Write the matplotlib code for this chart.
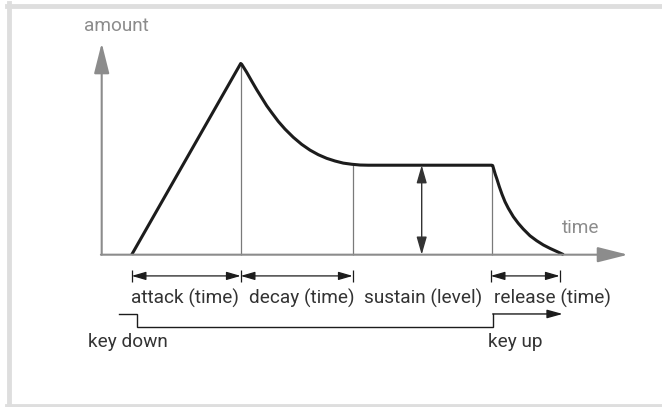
import matplotlib

matplotlib.use("Agg")
import matplotlib.pyplot as plt
from matplotlib.lines import Line2D

# envelope stage boundaries (time units) and levels (amount, peak = 1)
attack_start = 3.0
peak_time = 13.9
decay_end = 25.1
sustain_end = 39.0
peak_level = 1.0
sustain_level = 0.468

# decay and release curves
decay_t = [14.0, 14.5, 15.0, 15.5, 16.0, 16.5, 17.0, 17.66, 18.33, 19.16,
           20.0, 20.83, 21.66, 22.5, 23.33, 24.16, 25.0, 25.83, 26.66]
decay_a = [0.996, 0.954, 0.908, 0.863, 0.821, 0.779, 0.743, 0.697, 0.657, 0.614,
           0.577, 0.547, 0.523, 0.504, 0.490, 0.479, 0.473, 0.469, 0.468]
release_t = [39.1, 39.23, 39.36, 39.5, 39.76, 40.03, 40.33, 40.66, 41.16, 41.66,
             42.16, 42.83, 43.5, 44.16, 44.83, 45.5, 46.2]
release_a = [0.466, 0.443, 0.420, 0.399, 0.356, 0.316, 0.277, 0.243, 0.199, 0.164,
             0.134, 0.099, 0.073, 0.051, 0.033, 0.017, 0.0]

# key gate (time, level in the label area below the axis)
gate_t = [1.75, 3.5, 3.5, 39.1, 39.1, 46.1]
gate_a = [-0.310, -0.310, -0.377, -0.377, -0.310, -0.310]

stage_labels = ["attack (time)", "decay (time)", "sustain (level)", "release (time)"]
stage_label_x = [2.93, 14.7, 26.26, 39.2]
key_labels = ["key down", "key up"]
key_label_x = [-1.37, 38.6]

release_span = (38.9, 45.8)
sustain_arrow_t = 32.0

AXIS = "#8c8c8c"
INK = "#1c1c1c"
TEXT = "#333333"
THIN = "#7a7a7a"
FONT = ["Roboto", "DejaVu Sans"]
FS = 13.7

fig = plt.figure(figsize=(6.62, 4.07), dpi=100)
ax = fig.add_axes([0, 0, 1, 1])
ax.set_xlim(-10.17, 56.03)
ax.set_ylim(-0.7966, 1.3321)
ax.axis("off")

# frame
for xs, ys in [([9.2 / 662] * 2, [0, 1 - 3.3 / 407]),
               ([6.7 / 662, 1], [1 - 5.7 / 407] * 2),
               ([6.7 / 662, 1], [1 - 405.6 / 407] * 2)]:
    fig.add_artist(Line2D(xs, ys, transform=fig.transFigure, color="#dedede", lw=3.5))

# axes with arrows
axis_style = "-|>,head_length=18.7,head_width=4.7"
ax.annotate("", xy=(0, 1.107), xytext=(0, 0),
            arrowprops=dict(arrowstyle=axis_style, color=AXIS, lw=1.5,
                            shrinkA=0, shrinkB=0, mutation_scale=1))
ax.annotate("", xy=(52.63, 0), xytext=(-0.08, 0),
            arrowprops=dict(arrowstyle=axis_style, color=AXIS, lw=1.5,
                            shrinkA=0, shrinkB=0, mutation_scale=1))
ax.text(1.43, 1.196, "amount", color=AXIS, fontsize=FS, family=FONT,
        ha="center", va="center")
ax.text(47.9, 0.140, "time", color=AXIS, fontsize=FS, family=FONT,
        ha="center", va="center")

# thin stage markers
ax.vlines([peak_time, decay_end, sustain_end], 0,
          [peak_level, 0.473, sustain_level], color=THIN, lw=0.9)

# envelope
env_t = [attack_start, peak_time] + decay_t + [sustain_end] + release_t
env_a = [0, peak_level] + decay_a + [sustain_level] + release_a
ax.plot(env_t, env_a, color=INK, lw=2.2, solid_joinstyle="round",
        solid_capstyle="butt")

# sustain level arrow
ax.annotate("", xy=(sustain_arrow_t, sustain_level), xytext=(sustain_arrow_t, 0),
            arrowprops=dict(arrowstyle="<|-|>,head_length=10.8,head_width=3.1",
                            color="#333333", lw=1, shrinkA=0, shrinkB=0,
                            mutation_scale=1))

# time spans
dim_y = -0.111
dim_style = "<|-|>,head_length=8.6,head_width=2.5"
spans = [(attack_start, peak_time), (peak_time, decay_end), release_span]
for t0, t1 in spans:
    ax.annotate("", xy=(t1, dim_y), xytext=(t0, dim_y),
                arrowprops=dict(arrowstyle=dim_style, color=INK, lw=0.9,
                                shrinkA=0, shrinkB=0, mutation_scale=1))
ax.vlines([attack_start, peak_time, decay_end] + list(release_span),
          -0.141, -0.080, color=INK, lw=0.9)

for label, x in zip(stage_labels, stage_label_x):
    ax.text(x, -0.229, label, color=TEXT, fontsize=FS, family=FONT,
            ha="left", va="center")

# key gate
ax.plot(gate_t[:-1], gate_a[:-1], color=INK, lw=1.0, solid_joinstyle="miter")
ax.annotate("", xy=(gate_t[-1], gate_a[-1]), xytext=(gate_t[-2], gate_a[-2]),
            arrowprops=dict(arrowstyle="-|>,head_length=9.4,head_width=2.6",
                            color=INK, lw=1.0, shrinkA=0, shrinkB=0,
                            mutation_scale=1))
for label, x in zip(key_labels, key_label_x):
    ax.text(x, -0.457, label, color=TEXT, fontsize=FS, family=FONT,
            ha="left", va="center")

fig.savefig("out.png", dpi=100)
plt.close(fig)
